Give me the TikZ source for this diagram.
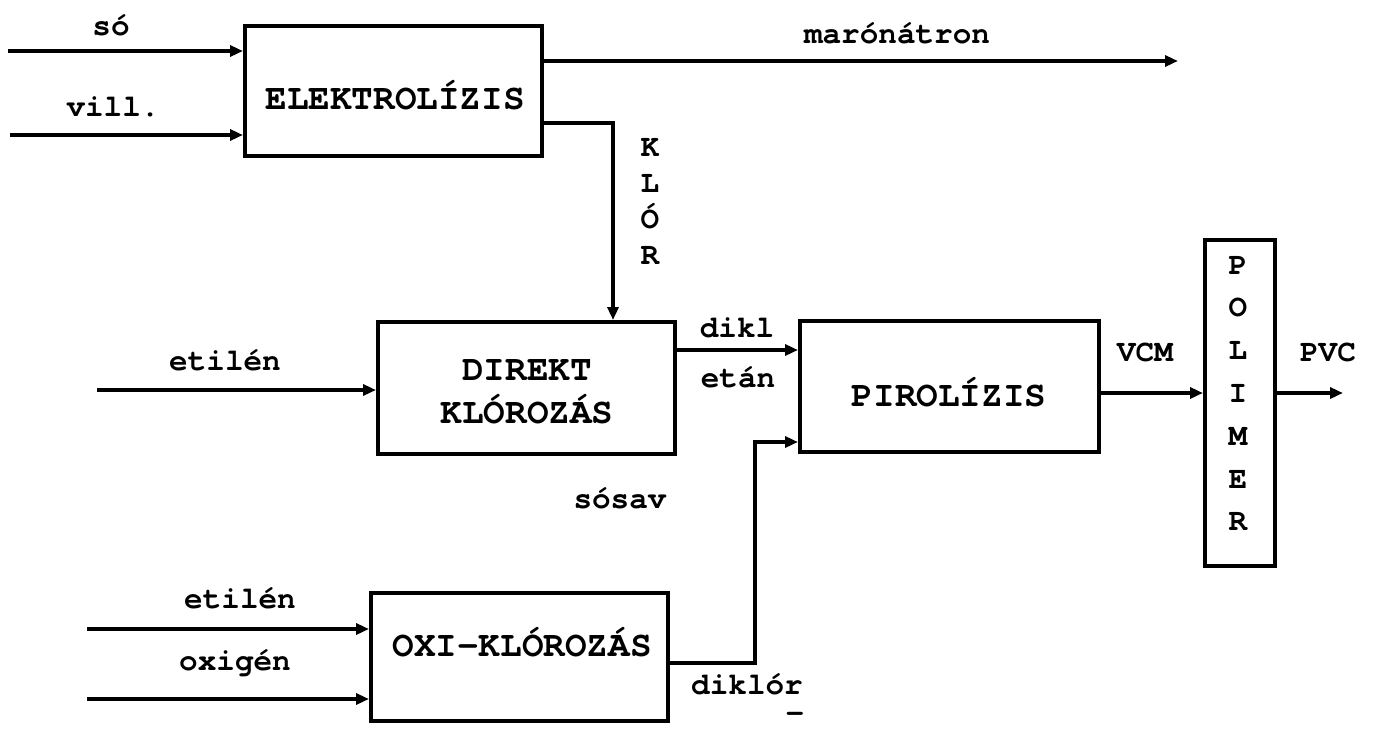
\documentclass[tikz,border=0pt]{standalone}
\usepackage{fontspec}
\setmainfont{TeX Gyre Cursor}
\usetikzlibrary{arrows.meta}
\begin{document}
\begin{tikzpicture}[x=1pt,y=-1pt,
  box/.style={draw, line width=4pt, inner sep=0pt},
  boxtxt/.style={font=\fontsize{36}{43}\selectfont\bfseries, inner sep=0pt, align=center},
  lbl/.style={font=\fontsize{31}{36}\selectfont\bfseries, inner sep=0pt},
  vlbl/.style={font=\fontsize{31}{36}\selectfont\bfseries, inner sep=0pt, align=center},
  flow/.style={line width=4pt, -{Triangle[length=13pt,width=11pt]}},
  plain/.style={line width=4pt}]
\useasboundingbox (0,0) rectangle (1374,729);
% boxes
\node[box, minimum width=297pt, minimum height=130pt] (elek) at (393.5,91) {};
\node[box, minimum width=297pt, minimum height=132pt] (direkt) at (526.5,388) {};
\node[box, minimum width=299pt, minimum height=131pt] (piro) at (949.5,386.5) {};
\node[box, minimum width=297pt, minimum height=128pt] (oxi) at (519.5,657) {};
\node[box, minimum width=70pt, minimum height=326pt] (poli) at (1240,403) {};
% box texts
\node[boxtxt] (elektxt) at (395,95) {ELEKTROLÍZIS};
\node[boxtxt] (direkttxt) at (527,391.5) {DIREKT\\KLÓROZÁS};
\node[boxtxt] (pirotxt) at (949,392) {PIROLÍZIS};
\node[boxtxt] (oxitxt) at (522,642) {OXI-KLÓROZÁS};
\node[vlbl, font=\fontsize{31}{42.8}\selectfont\bfseries] (politxt) at (1238,393.5) {P\\O\\L\\I\\M\\E\\R};
% free ends
\coordinate (so) at (8,51);
\coordinate (vill) at (10,135);
\coordinate (maro) at (1178,61);
\coordinate (et1) at (97,390);
\coordinate (et2) at (87,629);
\coordinate (oxig) at (87,699);
\coordinate (pvc) at (1343,393);
% connectors
\draw[flow] (so) -- (so -| elek.west);
\draw[flow] (vill) -- (vill -| elek.west);
\draw[flow] (elek.east |- maro) -- (maro);
\draw[flow] (elek.east |- 0,123) -| (direkt.north -| 613,0);
\draw[flow] (et1) -- (et1 -| direkt.west);
\draw[flow] (direkt.east |- 0,350) -- (piro.west |- 0,350);
\draw[flow] (oxi.east |- 0,663) -| (755,442) -- (piro.west |- 0,442);
\draw[flow] (et2) -- (et2 -| oxi.west);
\draw[flow] (oxig) -- (oxig -| oxi.west);
\draw[flow] (piro.east |- pvc) -- (poli.west |- pvc);
\draw[flow] (poli.east |- pvc) -- (pvc);
% labels
\node[lbl] (lso) at (111,25) {só};
\node[lbl] (lvill) at (113,107) {vill.};
\node[lbl] (lmaro) at (897,33) {marónátron};
\node[vlbl] (lklor) at (650,201) {K\\L\\Ó\\R};
\node[lbl] (let1) at (225,360) {etilén};
\node[lbl] (ldikl) at (737,328) {dikl};
\node[lbl] (letan) at (738,377) {etán};
\node[lbl] (lsosav) at (620,498) {sósav};
\node[lbl] (let2) at (240,598) {etilén};
\node[lbl] (loxig) at (235,663) {oxigén};
\node[lbl] (ldiklor) at (747,684) {diklór};
\node[lbl, text height=0pt, text depth=0pt, anchor=base] (ldash) at (795,722) {-};
\node[lbl] (lvcm) at (1145,352) {VCM};
\node[lbl] (lpvc) at (1328,352) {PVC};
\end{tikzpicture}
\end{document}
